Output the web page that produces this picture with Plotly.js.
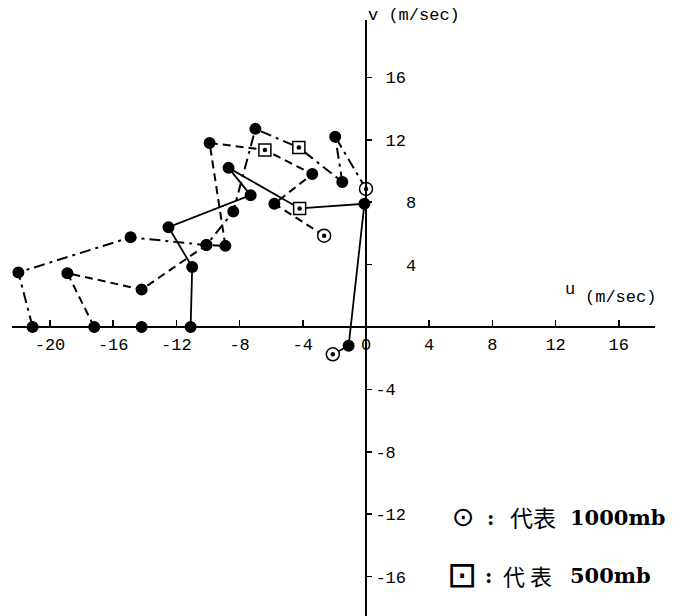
<!DOCTYPE html>
<html><head><meta charset="utf-8">
<script src="https://cdn.plot.ly/plotly-3.0.1.min.js"></script>
<style>html,body{margin:0;padding:0;background:#fff;}</style>
</head><body><div id="chart" style="width:688px;height:616px;"></div>
<script>
// Hodograph series: u and v wind components (m/sec), first point = 1000mb, fourth = 500mb
const uA = [-2.1, -1.1, -0.1, -4.2, -8.7, -7.3, -12.5, -11.0, -11.1, -14.2];
const vA = [-1.75, -1.2, 7.9, 7.6, 10.2, 8.45, 6.4, 3.85, 0, 0];
const uB = [-2.65, -5.8, -3.4, -6.4, -9.9, -8.9, -10.1, -14.2, -18.9, -17.2];
const vB = [5.85, 7.9, 9.8, 11.35, 11.8, 5.2, 5.25, 2.4, 3.45, 0];
const uC = [0, -1.95, -1.5, -4.25, -7.0, -8.4, -10.1, -14.9, -22.0, -21.1];
const vC = [8.85, 12.2, 9.3, 11.5, 12.7, 7.4, 5.25, 5.75, 3.5, 0];
const idx1000 = 0, idx500 = 3;

const xTicks = [-20, -16, -12, -8, -4, 0, 4, 8, 12, 16];
const yTicks = [-16, -12, -8, -4, 4, 8, 12, 16];

const xRange = [-22.405, 18.291];
const yRange = [-18.526, 19.679];

function markers(n) {
  const sym = [], col = [], size = [];
  for (let i = 0; i < n; i++) {
    if (i === idx1000) { sym.push('circle'); col.push('white'); size.push(13); }
    else if (i === idx500) { sym.push('square'); col.push('white'); size.push(12); }
    else { sym.push('circle'); col.push('black'); size.push(10.5); }
  }
  return {symbol: sym, color: col, size: size, opacity: 1, line: {color: 'black', width: 1.5}};
}
function series(u, v, dash, width) {
  return {x: u, y: v, type: 'scatter', mode: 'lines+markers', cliponaxis: false,
    line: {color: 'black', width: width, dash: dash}, marker: markers(u.length),
    showlegend: false, hoverinfo: 'x+y'};
}
const allU = [uA, uB, uC], allV = [vA, vB, vC];
const levelDots = {
  x: allU.flatMap(u => [u[idx1000], u[idx500]]),
  y: allV.flatMap(v => [v[idx1000], v[idx500]]),
  type: 'scatter', mode: 'markers', cliponaxis: false, showlegend: false, hoverinfo: 'skip',
  marker: {symbol: 'circle', color: 'black', size: 4.5, opacity: 1}
};
const data = [
  series(uB, vB, '8px,5px', 2),
  series(uC, vC, '11px,5px,3px,5px', 2),
  series(uA, vA, 'solid', 1.8),
  levelDots
];

const mono = 'Liberation Mono, DejaVu Sans Mono, monospace';
const xPos = (0 - yRange[0]) / (yRange[1] - yRange[0]);
const yPos = (0 - xRange[0]) / (xRange[1] - xRange[0]);
const nb = '\u00a0';
function yLab(t) { if (t > 0) return (t >= 10 ? nb : nb + nb + nb) + t; return '-' + Math.abs(t); }

const W = 688, H = 616, ml = 12, mr = 33, mt = 20, mb = 0;
function px2paperX(px) { return (px - ml) / (W - ml - mr); }
function px2paperY(py) { return (H - mb - py) / (H - mt - mb); }

const serif = 'DejaVu Serif, Liberation Serif, serif';
const cjk = 'Noto Sans CJK TC, Noto Sans CJK SC, sans-serif';
function ann(text, px, py, font, anchor) {
  return {text: text, x: px2paperX(px), y: px2paperY(py), xref: 'paper', yref: 'paper',
    xanchor: anchor || 'center', yanchor: 'middle', showarrow: false, font: font};
}

const layout = {
  width: W, height: H,
  margin: {l: ml, r: mr, t: mt, b: mb, pad: 0},
  paper_bgcolor: 'white', plot_bgcolor: 'white',
  xaxis: {range: xRange, anchor: 'free', position: xPos, showgrid: false, zeroline: false,
    showline: true, linecolor: 'black', linewidth: 2, ticks: 'inside', ticklen: 6, tickwidth: 1.5,
    tickcolor: 'black', tickvals: xTicks, ticktext: xTicks.map(String),
    tickfont: {family: mono, size: 17, color: 'black'}, ticklabelstandoff: 2, fixedrange: true},
  yaxis: {range: yRange, anchor: 'free', position: yPos, side: 'right', showgrid: false, zeroline: false,
    showline: true, linecolor: 'black', linewidth: 2, ticks: 'outside', ticklen: 5, tickwidth: 1.5,
    tickcolor: 'black', tickvals: yTicks, ticktext: yTicks.map(yLab),
    tickfont: {family: mono, size: 17, color: 'black'}, fixedrange: true},
  annotations: [
    ann('v (m/sec)', 366, 15, {family: mono, size: 17, color: 'black'}, 'left'),
    ann('u', 563, 289, {family: mono, size: 17, color: 'black'}, 'left'),
    ann('(m/sec)', 583, 297, {family: mono, size: 17, color: 'black'}, 'left'),
    ann('⊙', 463, 516, {family: 'DejaVu Sans', size: 27, color: 'black'}),
    ann('<b>:</b>', 490, 518, {family: serif, size: 20, color: 'black'}),
    ann('代表', 533, 517, {family: cjk, size: 23, color: 'black'}),
    ann('<b>1000mb</b>', 617, 517, {family: serif, size: 21, color: 'black'}),
    ann('⊡', 462, 574, {family: 'DejaVu Sans', size: 36, color: 'black'}),
    ann('<b>:</b>', 488, 576, {family: serif, size: 20, color: 'black'}),
    ann('代 表', 527, 575, {family: cjk, size: 22, color: 'black'}),
    ann('<b>500mb</b>', 610, 575, {family: serif, size: 21, color: 'black'})
  ]
};
Plotly.newPlot('chart', data, layout, {staticPlot: true, displayModeBar: false});
</script></body></html>
